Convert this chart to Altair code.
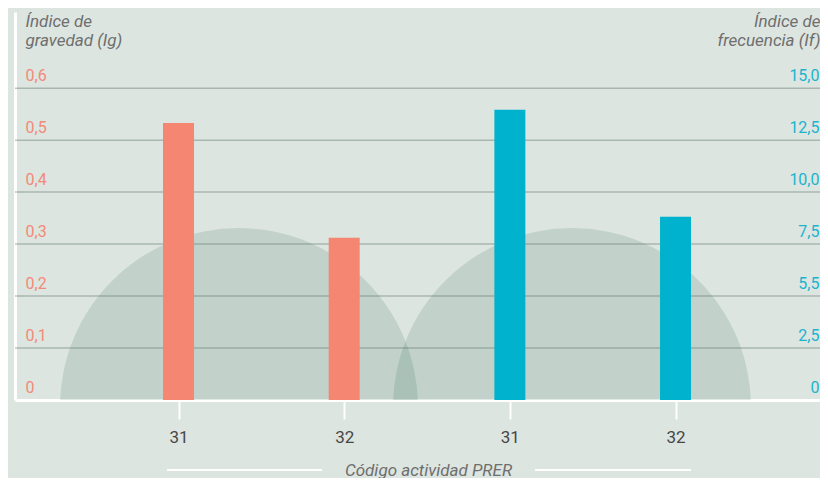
import json
import altair as alt
import pandas as pd

# ---- data ----
codes = ["31", "32"]
ig_values = [0.533, 0.312]      # Índice de gravedad (left axis)
if_values = [13.96, 8.81]       # Índice de frecuencia (right axis)

ig_ticks = [0, 0.1, 0.2, 0.3, 0.4, 0.5, 0.6]
ig_tick_labels = ["0", "0,1", "0,2", "0,3", "0,4", "0,5", "0,6"]
if_ticks = [0, 2.5, 5, 7.5, 10, 12.5, 15]
if_tick_labels = ["0", "2,5", "5,5", "7,5", "10,0", "12,5", "15,0"]
x_tick_labels = codes + codes
circle_centers = [0.365, 2.375]

df_ig = pd.DataFrame({"pos": [0, 1], "code": codes, "Ig": ig_values})
df_if = pd.DataFrame({"pos": [2, 3], "code": codes, "If": if_values})
df_circ = pd.DataFrame({"cx": circle_centers})
df_grid = pd.DataFrame({"g": ig_ticks[1:]})
df_one = pd.DataFrame({"a": [0]})

BG = "#dde5e0"
SALMON = "#f48672"
CYAN = "#00b2cd"
FONT = "Roboto"

x_scale = alt.Scale(domain=[-0.987, 3.872], nice=False, zero=False, padding=0)
y_left = alt.Scale(domain=[0, 0.7466], nice=False, zero=False, padding=0)
y_right = alt.Scale(domain=[0, 18.665], nice=False, zero=False, padding=0)

x_axis = alt.Axis(
    values=[0, 1, 2, 3],
    labelExpr=f"{json.dumps(x_tick_labels)}[datum.value]",
    grid=False,
    domainColor="white", domainWidth=3,
    tickColor="white", tickWidth=2, tickSize=19,
    labelPadding=10, labelFont=FONT, labelFontSize=17, labelColor="#474747",
    labelFlush=False,
    title="Código actividad PRER",
    titleFont=FONT, titleFontStyle="italic", titleFontWeight="normal",
    titleFontSize=17, titleColor="#6e6e6e",
    titleX=413, titleY=75, titleAlign="center", titleBaseline="alphabetic",
)

left_axis = alt.Axis(
    orient="left",
    values=ig_ticks,
    labelExpr=f"{json.dumps(ig_tick_labels)}[indexof({json.dumps(ig_ticks)}, datum.value)]",
    grid=False, ticks=False, tickSize=0,
    domainColor="white", domainWidth=3,
    labelAlign="left", labelPadding=-10, labelBaseline="alphabetic", labelOffset=-8,
    labelFont=FONT, labelFontSize=16, labelColor="#f28a78", labelOverlap=False,
    title=["Índice de", "gravedad (Ig)"],
    titleFont=FONT, titleFontStyle="italic", titleFontWeight="normal",
    titleFontSize=17, titleColor="#6e6e6e", titleLineHeight=19,
    titleAngle=0, titleAlign="left", titleBaseline="alphabetic",
    titleX=10, titleY=14,
)

right_axis = alt.Axis(
    orient="right",
    values=if_ticks,
    labelExpr=f"{json.dumps(if_tick_labels)}[indexof({json.dumps(if_ticks)}, datum.value)]",
    grid=False, ticks=False, tickSize=0, domain=False,
    labelAlign="right", labelPadding=-1, labelBaseline="alphabetic", labelOffset=-8,
    labelFont=FONT, labelFontSize=16, labelColor="#1ab4cf", labelOverlap=False,
    title=["Índice de", "frecuencia (If)"],
    titleFont=FONT, titleFontStyle="italic", titleFontWeight="normal",
    titleFontSize=17, titleColor="#6e6e6e", titleLineHeight=19,
    titleAngle=0, titleAlign="right", titleBaseline="alphabetic",
    titleX=0, titleY=14,
)

circles = alt.Chart(df_circ).mark_circle(
    size=128164, color="#0d533f", opacity=0.13, clip=True
).encode(
    x=alt.X("cx:Q", scale=x_scale, axis=x_axis),
    y=alt.YDatum(-0.0136, scale=y_left, axis=left_axis),
)

grid = alt.Chart(df_grid).mark_rule(color="#5d7468", opacity=0.4, strokeWidth=1.5).encode(
    y=alt.Y("g:Q", scale=y_left, axis=left_axis)
)

bars_ig = alt.Chart(df_ig).mark_bar(size=31, color=SALMON).encode(
    x=alt.X("pos:Q", scale=x_scale, axis=x_axis),
    y=alt.Y("Ig:Q", scale=y_left, axis=left_axis),
)

bars_if = alt.Chart(df_if).mark_bar(size=31, color=CYAN).encode(
    x=alt.X("pos:Q", scale=x_scale, axis=x_axis),
    y=alt.Y("If:Q", scale=y_right, axis=right_axis),
)

line_l = alt.Chart(df_one).mark_rule(color="white", strokeWidth=2).encode(
    x=alt.value(152), x2=alt.value(307), y=alt.value(458)
)
line_r = alt.Chart(df_one).mark_rule(color="white", strokeWidth=2).encode(
    x=alt.value(520), x2=alt.value(676), y=alt.value(458)
)

chart = alt.layer(
    alt.layer(circles, grid, bars_ig),
    bars_if, line_l, line_r,
).resolve_scale(y="independent").properties(
    width=805, height=388, background=BG,
    padding={"left": 7, "top": 4, "right": 0, "bottom": 78},
    autosize=alt.AutoSizeParams(type="none"),
).configure_view(stroke=None)

chart.save("out.html", embed_options={"renderer": "svg", "actions": False})
